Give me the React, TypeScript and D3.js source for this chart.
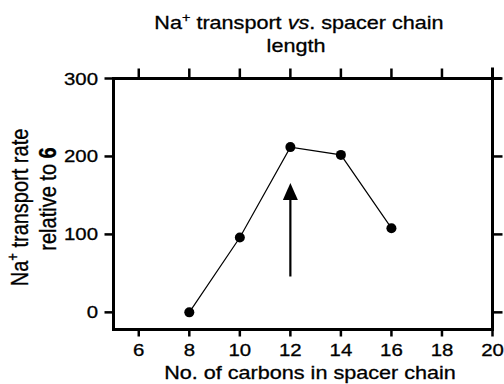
import React from 'react';
import * as d3 from 'd3';

// carbons in spacer chain vs. relative Na+ transport rate
const carbons = [8, 10, 12, 14, 16];
const transport = [0, 96, 212, 202, 108];

const xTicks = [6, 8, 10, 12, 14, 16, 18, 20];
const yTicks = [0, 100, 200, 300];

// arrow pointing at the optimum chain length
const arrowAt = 12;
const arrowFrom = 46;
const arrowTo = 166;

const FONT = '"Liberation Sans", Arial, Helvetica, sans-serif';
const SX = 1.2; // the figure is stretched horizontally

const App = () => {
  const width = 504;
  const height = 384;
  const x = d3.scaleLinear().domain([5, 20]).range([113.5, 492.5]);
  const y = d3.scaleLinear().domain([-22, 300]).range([329.5, 78.5]);

  const points = carbons.map((c, i) => ({ c, v: transport[i] }));
  const line = d3.line<{ c: number; v: number }>()
    .x(d => x(d.c))
    .y(d => y(d.v));

  const [x0, x1] = x.range();
  const [yb, yt] = y.range();

  const ax = x(arrowAt);
  const tip = y(arrowTo);
  const headBase = tip + 17;

  const txt = { fill: '#000', stroke: '#000', strokeWidth: 0.3 };

  return (
    <svg width={width} height={height} style={{ position: 'absolute', left: 0, top: 0 }} fontFamily={FONT}>
      <rect width={width} height={height} fill="#fff" />

      {/* title */}
      <g transform={`translate(299,28.5) scale(${SX},1)`}>
        <text textAnchor="middle" fontSize={18} {...txt}>
          Na<tspan fontSize={12} dy={-7}>+</tspan>
          <tspan dy={7}> transport </tspan>
          <tspan fontStyle="italic">vs</tspan>. spacer chain
        </text>
      </g>
      <g transform={`translate(296,51.5) scale(${SX},1)`}>
        <text textAnchor="middle" fontSize={18} {...txt}>length</text>
      </g>

      {/* frame */}
      <g stroke="#000" strokeWidth={3} fill="none">
        <line x1={x0} x2={x1 + 9} y1={yt} y2={yt} />
        <line x1={x0 - 1.5} x2={x1 + 1.5} y1={yb} y2={yb} />
        <line x1={x0} x2={x0} y1={yt - 1.5} y2={yb + 1.5} />
        <line x1={x1} x2={x1} y1={yt - 11} y2={yb + 1.5} />
      </g>

      {/* ticks */}
      <g stroke="#000" strokeWidth={2.5}>
        {xTicks.map(t => (
          <g key={'xt' + t}>
            <line x1={x(t)} x2={x(t)} y1={yt} y2={yt - 10} />
            <line x1={x(t)} x2={x(t)} y1={yb} y2={yb + 7} />
          </g>
        ))}
        {yTicks.map(t => (
          <g key={'yt' + t}>
            <line x1={x0} x2={x0 - 9} y1={y(t)} y2={y(t)} />
            <line x1={x1} x2={x1 + 10} y1={y(t)} y2={y(t)} />
          </g>
        ))}
      </g>

      {/* tick labels */}
      {xTicks.map(t => (
        <g key={'xl' + t} transform={`translate(${x(t)},356) scale(${SX},1)`}>
          <text textAnchor="middle" fontSize={17} {...txt}>{t}</text>
        </g>
      ))}
      {yTicks.map(t => (
        <g key={'yl' + t} transform={`translate(98,${y(t) + 6}) scale(${SX},1)`}>
          <text textAnchor="end" fontSize={17} {...txt}>{t}</text>
        </g>
      ))}

      {/* axis titles */}
      <g transform={`translate(310,379) scale(${SX},1)`}>
        <text textAnchor="middle" fontSize={18} {...txt}>No. of carbons in spacer chain</text>
      </g>
      <g transform={`translate(28,207.5) scale(${SX},1) rotate(-90)`}>
        <text textAnchor="middle" fontSize={20} {...txt}>
          Na<tspan fontSize={13} dy={-8}>+</tspan>
          <tspan dy={8}> transport rate</tspan>
        </text>
      </g>
      <g transform={`translate(56,199) scale(${SX},1) rotate(-90)`}>
        <text textAnchor="middle" fontSize={20} {...txt}>
          relative to <tspan fontWeight="bold">6</tspan>
        </text>
      </g>

      {/* data */}
      <path d={line(points) ?? ''} fill="none" stroke="#000" strokeWidth={1.2} />
      {points.map(p => (
        <circle key={p.c} cx={x(p.c)} cy={y(p.v)} r={5} fill="#000" />
      ))}

      {/* arrow */}
      <line x1={ax} x2={ax} y1={y(arrowFrom)} y2={headBase} stroke="#000" strokeWidth={2.2} />
      <path d={`M${ax},${tip} L${ax - 7.5},${headBase} L${ax + 7.5},${headBase} Z`} fill="#000" />
    </svg>
  );
};

export default App;
